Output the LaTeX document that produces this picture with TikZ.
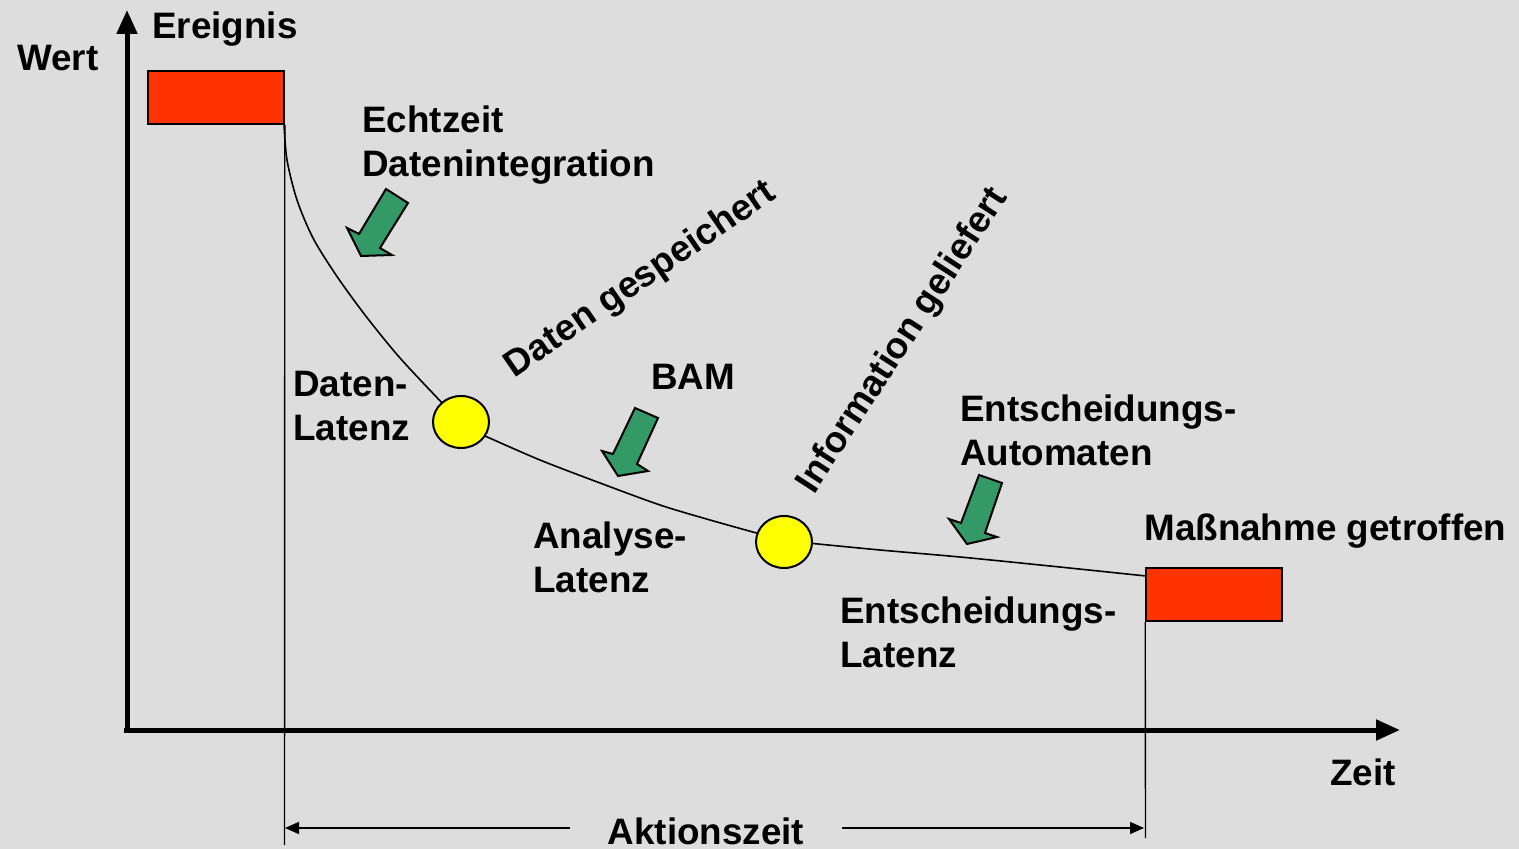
\documentclass[tikz,border=0pt]{standalone}
\usepackage{fontspec}
\setmainfont{Liberation Sans}
\usetikzlibrary{arrows.meta,shapes.geometric}
\definecolor{bg}{HTML}{DDDDDD}
\definecolor{evred}{HTML}{FF3300}
\definecolor{bamgreen}{HTML}{339966}
\definecolor{ptyellow}{HTML}{FFFF00}
\begin{document}
\begin{tikzpicture}[x=0.5pt,y=-0.5pt,
  lbl/.style={font=\bfseries\fontsize{18.4}{22}\selectfont, inner sep=0pt, align=left},
  axis/.style={line width=2.5pt, -{Triangle[length=12pt,width=10pt]}},
  thin/.style={line width=0.7pt},
  redbox/.style={draw=black, line width=0.8pt, fill=evred, minimum width=68pt, minimum height=26.5pt, inner sep=0pt},
  milestone/.style={ellipse, draw=black, line width=1pt, fill=ptyellow, minimum width=28pt, minimum height=26pt, inner sep=0pt},
  bigarrow/.style={draw=black, line width=1pt, fill=bamgreen, line join=miter},
  dimarrow/.style={line width=0.8pt, -{Triangle[length=7pt,width=6pt]}},
  curve/.style={line width=0.8pt}
]
\fill[bg] (0,0) rectangle (1519,849);
\useasboundingbox (0,0) rectangle (1519,849);

% axes
\coordinate (origin) at (127,730);
\coordinate (ytip) at (127,10);
\coordinate (xtip) at (1400,730);
\draw[axis] (origin) -- (ytip);
\draw[axis] (124,730) -- (xtip);

% event and action boxes
\node[redbox] (ev) at (216,97.5) {};
\node[redbox] (act) at (1214,594.5) {};

% vertical guide lines
\coordinate (evbot) at (284.5,845);
\coordinate (actbot) at (1145.5,838);
\draw[thin] (ev.south east) -- (evbot);
\draw[thin] (act.south west) -- (actbot);

% latency curve
\draw[curve] plot[smooth] coordinates {(284,124) (287,160) (297,200) (313,238) (336,275) (365,315) (400,358) (445,406)};
\draw[curve] plot[smooth] coordinates {(485,436) (540,460) (600,483) (660,505) (710,520) (760,534)};
\draw[curve] plot[smooth] coordinates {(808,543) (880,550) (960,557) (1050,566) (1146,576)};

\node[milestone] (m1) at (461,422) {};
\node[milestone] (m2) at (784,542) {};

% green arrows
\draw[bigarrow] (386,189) -- (408,203) -- (380,248) -- (392,255) -- (361,256) -- (347,228) -- (359,234) -- cycle;
\draw[bigarrow] (635,408) -- (658,418) -- (637,464) -- (648,471) -- (618,476) -- (602,451) -- (613,454) -- cycle;
\draw[bigarrow] (979,475) -- (1002,483) -- (985,533) -- (997,537) -- (967,544) -- (949,519) -- (961,523) -- cycle;

% Aktionszeit
\node[lbl] (akt) at (706,831) {Aktionszeit};
\coordinate (aktl) at (570,828);
\coordinate (aktr) at (842,828);
\coordinate (aktlend) at (285,828);
\coordinate (aktrend) at (1144,828);
\draw[dimarrow] (aktl) -- (aktlend);
\draw[dimarrow] (aktr) -- (aktrend);

% labels
\node[lbl, anchor=west] (wert) at (17,58) {Wert};
\node[lbl, anchor=west] (ereig) at (152,29) {Ereignis};
\node[lbl, anchor=west] (echt) at (362,145) {Echtzeit\\Datenintegration};
\node[lbl, rotate=34.5] (gesp) at (641,280) {Daten gespeichert};
\node[lbl, anchor=west] (bam) at (651,377) {BAM};
\node[lbl, rotate=57] (gel) at (903,341) {Information geliefert};
\node[lbl, anchor=west] (dlat) at (293,406) {Daten-\\Latenz};
\node[lbl, anchor=west] (auto) at (960,430) {Entscheidungs-\\Automaten};
\node[lbl, anchor=west] (alat) at (533,557) {Analyse-\\Latenz};
\node[lbl, anchor=west] (elat) at (840,632) {Entscheidungs-\\Latenz};
\node[lbl, anchor=west] (mass) at (1144,531) {Maßnahme getroffen};
\node[lbl, anchor=west] (zeit) at (1330,772) {Zeit};
\end{tikzpicture}
\end{document}
